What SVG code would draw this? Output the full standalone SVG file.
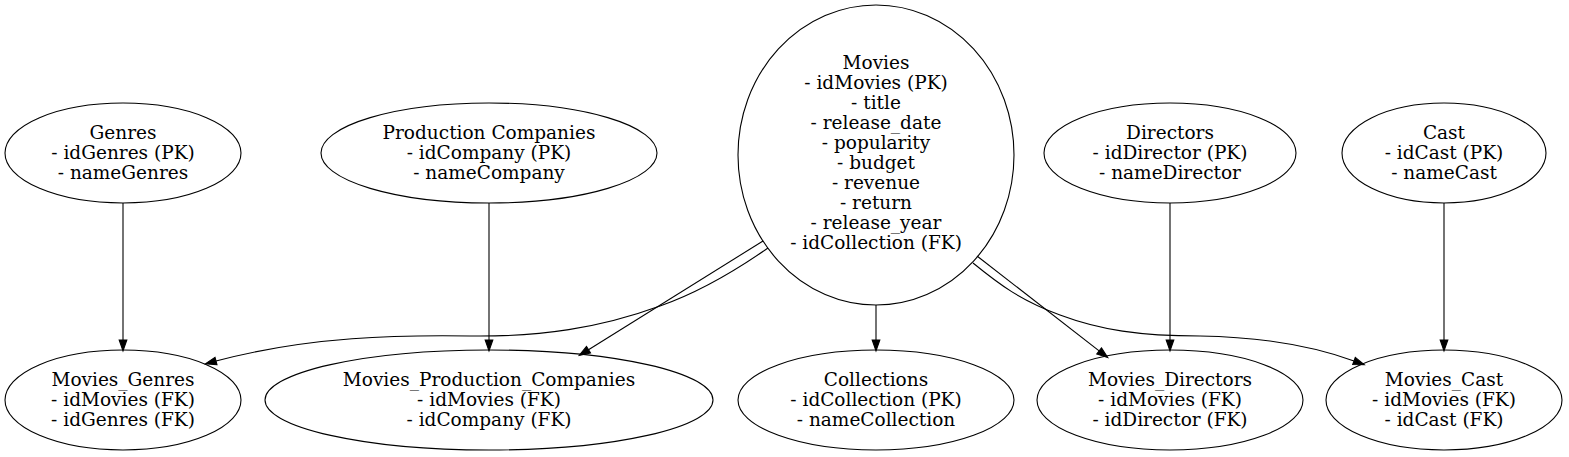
<svg xmlns="http://www.w3.org/2000/svg" width="1569" height="457" viewBox="0 0 1569 457">
<defs>
<style>
.n ellipse{fill:none;stroke:#000;stroke-width:1.1}
.n text{font-family:"DejaVu Serif",serif;font-size:18.5px;fill:#000;text-anchor:middle}
.e path{fill:none;stroke:#000;stroke-width:1.1}
</style>
<marker id="ah" markerUnits="userSpaceOnUse" markerWidth="12" markerHeight="10" viewBox="0 -4 11 8" refX="0" refY="0" orient="auto" overflow="visible">
<path d="M0,-3.5 L10,0 L0,3.5 z" fill="#000" stroke="#000" stroke-width="1"/>
</marker>
</defs>
<rect width="1569" height="457" fill="#fff"/>
<g id="Genres" class="n"><ellipse cx="123" cy="153" rx="118" ry="50"/>
<text x="123" y="139">Genres</text><text x="123" y="159">- idGenres (PK)</text><text x="123" y="179">- nameGenres</text></g>
<g id="ProductionCompanies" class="n"><ellipse cx="489" cy="153" rx="168" ry="50"/>
<text x="489" y="139">Production Companies</text><text x="489" y="159">- idCompany (PK)</text><text x="489" y="179">- nameCompany</text></g>
<g id="Movies" class="n"><ellipse cx="876" cy="155" rx="138" ry="150"/>
<text x="876" y="69">Movies</text><text x="876" y="89">- idMovies (PK)</text><text x="876" y="109">- title</text><text x="876" y="129">- release_date</text><text x="876" y="149">- popularity</text><text x="876" y="169">- budget</text><text x="876" y="189">- revenue</text><text x="876" y="209">- return</text><text x="876" y="229">- release_year</text><text x="876" y="249">- idCollection (FK)</text></g>
<g id="Directors" class="n"><ellipse cx="1170" cy="153" rx="126" ry="50"/>
<text x="1170" y="139">Directors</text><text x="1170" y="159">- idDirector (PK)</text><text x="1170" y="179">- nameDirector</text></g>
<g id="Cast" class="n"><ellipse cx="1444" cy="153" rx="102" ry="50"/>
<text x="1444" y="139">Cast</text><text x="1444" y="159">- idCast (PK)</text><text x="1444" y="179">- nameCast</text></g>
<g id="Movies_Genres" class="n"><ellipse cx="123" cy="400" rx="118" ry="50"/>
<text x="123" y="386">Movies_Genres</text><text x="123" y="406">- idMovies (FK)</text><text x="123" y="426">- idGenres (FK)</text></g>
<g id="Movies_Production_Companies" class="n"><ellipse cx="489" cy="400" rx="224" ry="50"/>
<text x="489" y="386">Movies_Production_Companies</text><text x="489" y="406">- idMovies (FK)</text><text x="489" y="426">- idCompany (FK)</text></g>
<g id="Collections" class="n"><ellipse cx="876" cy="400" rx="138" ry="50"/>
<text x="876" y="386">Collections</text><text x="876" y="406">- idCollection (PK)</text><text x="876" y="426">- nameCollection</text></g>
<g id="Movies_Directors" class="n"><ellipse cx="1170" cy="400" rx="133" ry="50"/>
<text x="1170" y="386">Movies_Directors</text><text x="1170" y="406">- idMovies (FK)</text><text x="1170" y="426">- idDirector (FK)</text></g>
<g id="Movies_Cast" class="n"><ellipse cx="1444" cy="400" rx="118" ry="50"/>
<text x="1444" y="386">Movies_Cast</text><text x="1444" y="406">- idMovies (FK)</text><text x="1444" y="426">- idCast (FK)</text></g>
<g id="edges" class="e">
<path d="M123,203 L123,340" marker-end="url(#ah)"/>
<path d="M489,203 L489,340" marker-end="url(#ah)"/>
<path d="M1170,203 L1170,340" marker-end="url(#ah)"/>
<path d="M1444,203 L1444,340" marker-end="url(#ah)"/>
<path d="M876,305 L876,340" marker-end="url(#ah)"/>
<path d="M763,241 L588.5,349.7" marker-end="url(#ah)"/>
<path d="M977,256 L1099.1,350.9" marker-end="url(#ah)"/>
<path d="M768,248 C735,271 700,292 660,306 C600,328 540,337 470,336 C400,335 310,336 216,361" marker-end="url(#ah)"/>
<path d="M973,263 C1000,285 1020,300 1060,315 C1100,330 1140,336 1200,336 C1260,337 1310,345 1354,361" marker-end="url(#ah)"/>
</g>
</svg>
